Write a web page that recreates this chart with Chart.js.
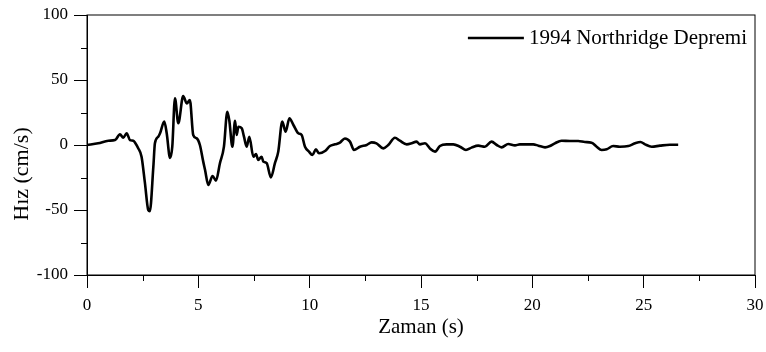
<!DOCTYPE html>
<html>
<head>
<meta charset="utf-8">
<script src="https://cdn.jsdelivr.net/npm/chart.js@4/dist/chart.umd.min.js"></script>
<style>
  body { margin: 0; background: #fff; }
</style>
</head>
<body>
<canvas id="chart" width="766" height="352"></canvas>
<script>
// velocity record, time in seconds and velocity in cm/s
const times = [
  0, 0.5, 0.96, 1.26, 1.48, 1.63, 1.78, 1.93, 2.08, 2.16,
  2.3, 2.45, 2.6, 2.75, 2.82, 2.98, 3.05, 3.2, 3.28, 3.47,
  3.58, 3.73, 3.83, 3.95, 4.1, 4.32, 4.48, 4.62, 4.77, 4.93,
  5.07, 5.22, 5.3, 5.45, 5.64, 5.79, 5.97, 6.15, 6.3, 6.39,
  6.53, 6.65, 6.72, 6.8, 6.95, 7.05, 7.17, 7.29, 7.47, 7.59,
  7.69, 7.84, 7.92, 8.07, 8.26, 8.44, 8.59, 8.77, 8.92, 9.09,
  9.27, 9.49, 9.64, 9.79, 9.97, 10.12, 10.28, 10.42, 10.69, 10.91,
  11.14, 11.36, 11.58, 11.81, 11.99, 12.26, 12.56, 12.78, 13.0, 13.31,
  13.53, 13.83, 14.05, 14.36, 14.58, 14.8, 14.95, 15.18, 15.4, 15.63,
  15.85, 16.15, 16.45, 16.75, 17.02, 17.27, 17.57, 17.87, 18.17, 18.4,
  18.62, 18.92, 19.22, 19.44, 19.74, 20.04, 20.27, 20.57, 20.79, 21.01,
  21.31, 21.69, 22.06, 22.36, 22.66, 22.89, 23.11, 23.34, 23.63, 23.93,
  24.31, 24.61, 24.86, 25.06, 25.36, 25.73, 26.18, 26.55
];
const velocity = [
  0, 1.3, 3.3, 3.8, 8.2, 5.6, 9, 3.8, 3.3, 1.8,
  -2.5, -9, -29, -50, -51, -16.7, 1.3, 6.4, 9, 18,
  9, -10, -1.3, 36, 16.7, 37.7, 32, 34.6, 7.7, 5.1,
  0, -12.8, -19, -30.8, -23.8, -27.4, -14, -1.3, 25.6, 19,
  -1.3, 18.7, 7.7, 14, 12.8, 6.4, -1.3, 6.4, -9, -7,
  -11.5, -9, -12.8, -14, -24.9, -14, -5.1, 18, 10.3, 20.5,
  15.4, 9, 7.7, -1.3, -5.1, -7.7, -3.3, -6.4, -4.6, -0.8,
  0.5, 1.8, 5, 2.6, -3.8, -1.3, 0, 2, 1.3, -2.6,
  0, 5.6, 3.3, 0.5, 1.3, 2.6, 0.5, 1.3, -2.6, -5.1,
  -0.8, 0.5, 0.5, -1.3, -3.8, -2, -0.5, -1.3, 2.6, 0,
  -1.8, 0.8, -0.3, 0.5, 0.5, 0.5, -0.5, -1.8, -0.8, 1.3,
  3.3, 3.1, 3.1, 2.3, 1.8, -1.3, -3.8, -3.3, -0.8, -1.3,
  -0.8, 1.3, 2.3, 0.5, -1.3, -0.5, 0.2, 0.2
];
const seriesName = "1994 Northridge Depremi";
const xTitle = "Zaman (s)";
const yTitle = "Hız (cm/s)";
const xMinorTicks = [2.5, 7.5, 12.5, 17.5, 22.5, 27.5];
const yMinorTicks = [-75, -25, 25, 75];

const serif = "'Liberation Serif', 'Times New Roman', serif";

// box around the plot, minor ticks, axis titles and the inline legend
const decorations = {
  id: "decorations",
  afterDraw(chart) {
    const { ctx, chartArea: a, scales } = chart;
    ctx.save();
    ctx.strokeStyle = "#000";
    ctx.lineWidth = 1;
    ctx.strokeRect(a.left, a.top, a.right - a.left, a.bottom - a.top);

    ctx.beginPath();
    xMinorTicks.forEach(v => {
      const px = Math.round(scales.x.getPixelForValue(v)) + 0.5;
      ctx.moveTo(px, a.bottom);
      ctx.lineTo(px, a.bottom + 6);
    });
    yMinorTicks.forEach(v => {
      const py = Math.round(scales.y.getPixelForValue(v)) + 0.5;
      ctx.moveTo(a.left, py);
      ctx.lineTo(a.left - 6, py);
    });
    ctx.stroke();

    ctx.fillStyle = "#000";
    ctx.font = "21px " + serif;
    ctx.textAlign = "center";
    ctx.textBaseline = "middle";
    ctx.fillText(xTitle, (a.left + a.right) / 2, 327);

    ctx.save();
    ctx.translate(22, 174);
    ctx.rotate(-Math.PI / 2);
    ctx.font = "22px " + serif;
    ctx.fillText(yTitle, 0, 0);
    ctx.restore();

    // legend entry in the upper right corner
    const label = chart.data.datasets[0].label;
    const ly = a.top + 23;
    ctx.textAlign = "right";
    ctx.fillText(label, a.right - 8, ly);
    const textStart = a.right - 8 - ctx.measureText(label).width;
    ctx.lineWidth = 2.5;
    ctx.beginPath();
    ctx.moveTo(textStart - 61, ly);
    ctx.lineTo(textStart - 5, ly);
    ctx.stroke();
    ctx.restore();
  }
};

new Chart(document.getElementById("chart"), {
  type: "line",
  data: {
    datasets: [
      {
        label: seriesName,
        data: times.map((t, i) => ({ x: t, y: velocity[i] })),
        borderColor: "#000",
        borderWidth: 2.6,
        pointRadius: 0,
        fill: false,
        cubicInterpolationMode: "monotone",
      },
    ],
  },
  options: {
    responsive: false,
    animation: false,
    layout: { padding: { top: 15, right: 11, left: 0, bottom: 0 } },
    plugins: {
      legend: { display: false },
      tooltip: { enabled: false },
    },
    scales: {
      x: {
        type: "linear",
        min: 0,
        max: 30,
        afterFit: s => { s.height = 77; s.paddingRight = 0; s.paddingLeft = 0; },
        ticks: {
          stepSize: 5,
          color: "#000",
          padding: 7,
          maxRotation: 0,
          font: { family: serif, size: 17 },
        },
        grid: { drawOnChartArea: false, tickLength: 13, tickColor: "#000" },
        border: { display: true, color: "#000", width: 1 },
      },
      y: {
        min: -100,
        max: 100,
        afterFit: s => { s.width = 87; s.paddingTop = 0; s.paddingBottom = 0; },
        ticks: {
          stepSize: 50,
          color: "#000",
          padding: 6,
          font: { family: serif, size: 17 },
        },
        grid: { drawOnChartArea: false, tickLength: 13, tickColor: "#000" },
        border: { display: true, color: "#000", width: 1 },
      },
    },
  },
  plugins: [decorations],
});
</script>
</body>
</html>
